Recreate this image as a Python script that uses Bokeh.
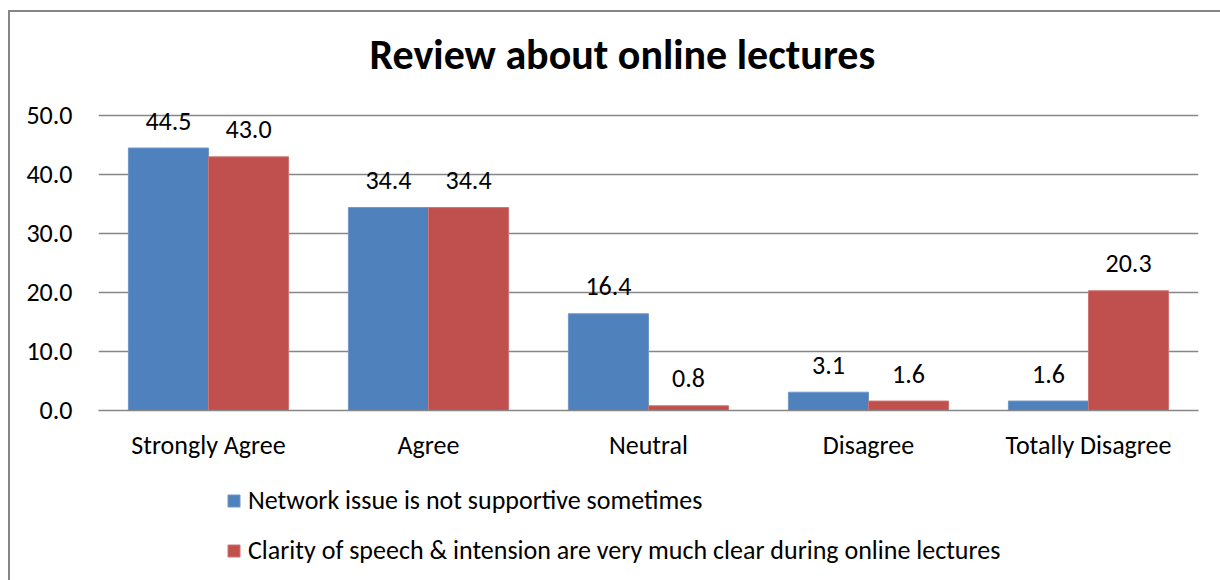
from bokeh.plotting import figure
from bokeh.layouts import column
from bokeh.models import (ColumnDataSource, FactorRange, LabelSet, Legend, LegendItem,
                          SingleIntervalTicker, NumeralTickFormatter, Title)
from bokeh.core.properties import value
from bokeh.transform import dodge
from bokeh.embed import file_html
from bokeh.resources import INLINE

categories = ["Strongly Agree", "Agree", "Neutral", "Disagree", "Totally Disagree"]
network = [44.5, 34.4, 16.4, 3.1, 1.6]
clarity = [43.0, 34.4, 0.8, 1.6, 20.3]
series_names = ["Network issue is not supportive sometimes",
                "Clarity of speech & intension are very much clear during online lectures"]
title_text = "Review about online lectures"

FONT = "Carlito, Lato"
BLUE = "#4F81BD"
RED = "#C0504D"
GRID = "#868686"
FS = "26px"
LINE = "linear-gradient(#868686, #868686)"

src = ColumnDataSource(dict(
    cat=categories,
    network=network,
    clarity=clarity,
    network_lbl=[f"{v:.1f}" for v in network],
    clarity_lbl=[f"{v:.1f}" for v in clarity],
))

# ---- main chart ----
# y range extends a little above the 50 gridline so the top data label is not clipped
p = figure(width=1220, height=470, x_range=FactorRange(*categories), y_range=(0, 53.4),
           output_backend="svg", toolbar_location=None,
           min_border_left=98, min_border_right=22, min_border_top=95, min_border_bottom=60)
p.x_range.range_padding = 0
p.border_fill_alpha = 0
p.styles = {
    "background-color": "white",
    "background-image": f"{LINE}, {LINE}",
    "background-size": "2px 460px, 1212px 2px",
    "background-position": "8px 10px, 8px 10px",
    "background-repeat": "no-repeat",
}

p.title = Title(text=title_text, align="left", offset=271, standoff=32,
                text_font=FONT, text_font_size="42px", text_font_style="bold", text_color="black")

bw = 0.364
r1 = p.vbar(x=dodge("cat", -bw / 2, range=p.x_range), top="network", width=bw, source=src,
            fill_color=BLUE, line_color="#6f97c9", line_width=1)
r2 = p.vbar(x=dodge("cat", bw / 2, range=p.x_range), top="clarity", width=bw, source=src,
            fill_color=RED, line_color="#cd7472", line_width=1)

for col, off in (("network", -bw / 2), ("clarity", bw / 2)):
    p.add_layout(LabelSet(x=dodge("cat", off, range=p.x_range), y=col, text=col + "_lbl", source=src,
                          text_align="center", text_baseline="middle", y_offset=27,
                          text_font=value(FONT), text_font_size=FS, text_color="black"))

p.outline_line_color = None
p.xgrid.grid_line_color = None
p.ygrid.grid_line_color = GRID
p.ygrid.grid_line_width = 1.5

p.yaxis.ticker = SingleIntervalTicker(interval=10)
p.yaxis.formatter = NumeralTickFormatter(format="0.0")
p.yaxis.axis_line_color = None
p.yaxis.major_tick_line_color = None
p.yaxis.minor_tick_line_color = None
p.yaxis.major_tick_out = 0
p.yaxis.major_tick_in = 0
p.yaxis.major_label_standoff = 22
p.yaxis.major_label_text_font = FONT
p.yaxis.major_label_text_font_size = FS
p.yaxis.major_label_text_color = "black"

p.xaxis.axis_line_color = GRID
p.xaxis.axis_line_width = 1.5
p.xaxis.major_tick_line_color = None
p.xaxis.minor_tick_line_color = None
p.xaxis.major_tick_out = 0
p.xaxis.major_tick_in = 0
p.xaxis.major_label_standoff = 18
p.xaxis.major_label_text_font = FONT
p.xaxis.major_label_text_font_size = FS
p.xaxis.major_label_text_color = "black"

# ---- legend strip (same series drawn far outside its view, only the legend shows) ----
lg = figure(width=1220, height=110, x_axis_type=None, y_axis_type=None,
            x_range=FactorRange(*categories), y_range=(1000, 1001),
            output_backend="svg", toolbar_location=None,
            min_border_left=0, min_border_right=0, min_border_top=0, min_border_bottom=0)
lg.outline_line_color = None
lg.grid.grid_line_color = None
lg.border_fill_alpha = 0
lg.background_fill_alpha = 0
lg.styles = {
    "background-color": "white",
    "background-image": LINE,
    "background-size": "2px 110px",
    "background-position": "8px 0px",
    "background-repeat": "no-repeat",
}
d1 = lg.vbar(x="cat", top="network", width=bw, source=src, fill_color=BLUE, line_color="#6f97c9")
d2 = lg.vbar(x="cat", top="clarity", width=bw, source=src, fill_color=RED, line_color="#cd7472")

legend = Legend(items=[LegendItem(label=series_names[0], renderers=[d1]),
                       LegendItem(label=series_names[1], renderers=[d2])],
                location=(128, 14), orientation="vertical",
                glyph_width=15, glyph_height=15, label_standoff=7, label_height=31,
                spacing=18, padding=0, margin=0, border_line_color=None,
                background_fill_alpha=0, label_text_font=FONT, label_text_font_size=FS,
                label_text_color="black")
lg.add_layout(legend, "center")

layout = column(p, lg, spacing=0)
open("out.html", "w").write(file_html(layout, INLINE))
